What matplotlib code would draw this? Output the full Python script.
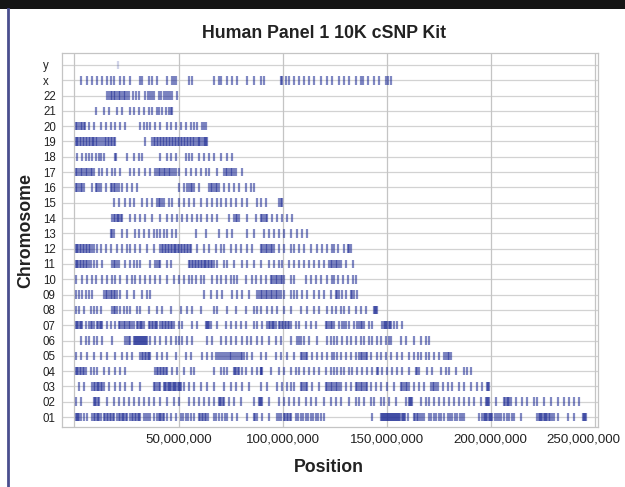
import matplotlib
matplotlib.use("Agg")
import matplotlib.pyplot as plt
from matplotlib.lines import Line2D
from matplotlib.patches import Rectangle
from matplotlib.ticker import FuncFormatter
from matplotlib.transforms import ScaledTranslation

plt.rcParams["font.family"] = ["Liberation Sans", "DejaVu Sans"]

# SNP positions per chromosome, in Mb
chr01 = [0.5, 1.0, 1.6, 2.2, 2.9, 4.5, 6.1, 8.5, 9.2, 9.9, 10.6, 11.3, 12.0, 12.5, 14.1, 14.8, 15.5, 16.2,
         16.9, 17.6, 18.3, 18.9, 20.5, 21.2, 21.9, 22.6, 23.3, 24.0, 24.6, 25.3, 26.9, 27.6, 28.3, 29.0,
         29.7, 30.4, 31.0, 31.7, 33.3, 34.4, 35.5, 36.5, 38.1, 39.7, 40.4, 41.1, 41.8, 42.5, 42.9, 44.6,
         46.2, 48.6, 51.0, 52.2, 53.4, 54.6, 55.8, 57.4, 59.8, 60.5, 61.2, 61.9, 62.6, 63.3, 63.9, 67.0,
         68.2, 69.6, 71.0, 72.2, 73.4, 75.8, 78.2, 83.0, 86.2, 86.9, 87.8, 90.2, 93.4, 97.4, 98.2, 99.0,
         100.6, 101.3, 102.0, 102.7, 103.4, 103.8, 106.3, 107.5, 108.7, 109.9, 111.1, 112.3, 113.5, 114.7,
         115.9, 117.1, 118.3, 119.9, 143.1, 147.1, 147.6, 148.1, 148.6, 149.1, 149.6, 150.1, 150.6, 151.1,
         151.6, 152.1, 152.6, 153.1, 153.6, 154.1, 154.6, 155.1, 155.6, 156.1, 156.6, 157.2, 157.8, 158.4,
         159.0, 160.0, 163.1, 163.8, 164.5, 165.2, 166.0, 166.8, 167.9, 170.3, 171.5, 172.7, 173.9, 175.1,
         176.3, 177.6, 179.2, 180.4, 181.6, 182.8, 184.0, 185.2, 186.2, 187.2, 194.4, 196.0, 196.6, 197.2,
         197.8, 198.4, 199.0, 199.6, 200.0, 200.8, 201.8, 202.8, 203.8, 204.8, 206.4, 207.6, 208.8, 210.0,
         211.2, 214.4, 222.4, 223.0, 223.6, 224.2, 224.8, 225.4, 226.0, 226.6, 227.2, 227.8, 228.4, 229.2,
         230.4, 232.1, 236.9, 240.1, 244.1, 244.6, 245.1, 245.7]
chr02 = [0.5, 2.9, 9.3, 9.9, 10.5, 11.1, 11.7, 15.7, 18.9, 21.3, 23.7, 26.1, 28.5, 30.9, 33.3, 35.7, 38.1,
         41.3, 44.6, 47.7, 50.1, 55.0, 57.4, 59.8, 62.2, 64.6, 67.0, 69.4, 70.0, 70.6, 71.2, 71.8, 74.2,
         76.6, 79.8, 86.2, 88.6, 89.2, 89.7, 90.2, 93.4, 98.2, 100.6, 103.0, 105.4, 107.8, 111.1, 113.5,
         115.9, 119.9, 123.0, 125.5, 127.9, 131.9, 135.1, 136.7, 139.1, 142.3, 143.9, 147.1, 148.7, 151.1,
         154.3, 159.1, 160.7, 161.2, 161.8, 162.3, 166.3, 168.8, 170.3, 172.8, 175.1, 177.6, 180.0, 182.4,
         184.8, 187.2, 189.6, 192.0, 195.2, 197.6, 198.2, 198.7, 199.2, 202.4, 206.4, 207.0, 207.6, 208.2,
         208.8, 209.6, 212.0, 215.2, 217.6, 220.8, 222.4, 225.6, 228.8, 232.1, 235.2, 237.6, 240.1, 242.5]
chr03 = [2.1, 4.5, 8.5, 9.2, 9.9, 10.6, 11.3, 12.0, 12.7, 13.4, 14.1, 16.5, 19.7, 22.1, 24.5, 27.7, 31.7,
         38.1, 38.9, 39.7, 40.5, 41.3, 42.9, 43.5, 44.1, 44.7, 45.3, 45.9, 46.5, 47.1, 47.7, 48.3, 48.9,
         49.5, 50.1, 50.6, 51.0, 52.5, 55.0, 57.4, 60.6, 63.8, 67.0, 71.8, 75.0, 77.4, 80.6, 83.8, 89.4,
         92.6, 97.4, 99.8, 102.2, 103.8, 105.4, 108.7, 109.5, 110.3, 111.1, 111.9, 114.3, 117.4, 120.7,
         121.5, 122.3, 123.1, 123.9, 124.7, 125.5, 126.3, 127.1, 127.9, 130.3, 132.7, 135.1, 135.9, 136.7,
         137.5, 138.3, 139.1, 139.9, 140.7, 142.3, 144.7, 147.1, 150.3, 153.5, 156.7, 157.5, 158.3, 159.1,
         159.9, 160.7, 163.1, 165.5, 167.9, 171.2, 172.0, 172.8, 173.6, 174.4, 176.8, 179.2, 181.6, 184.8,
         187.2, 190.4, 193.6, 196.0, 198.4, 198.8, 199.2]
chr04 = [0.5, 1.2, 1.9, 2.6, 3.3, 4.0, 4.7, 5.3, 7.7, 9.3, 10.9, 14.1, 16.5, 19.7, 22.1, 24.5, 38.9, 39.6,
         40.3, 41.0, 41.7, 42.4, 43.1, 43.8, 44.6, 47.0, 49.4, 52.5, 55.8, 57.4, 67.0, 70.2, 71.8, 73.4,
         76.6, 77.2, 77.8, 78.4, 79.0, 80.6, 82.2, 85.4, 87.8, 89.4, 89.8, 90.2, 94.2, 98.2, 100.6, 103.8,
         106.3, 107.8, 110.2, 112.6, 115.0, 117.4, 120.7, 123.1, 124.7, 126.3, 127.9, 129.5, 131.9, 133.5,
         135.9, 138.3, 140.7, 143.1, 145.5, 146.0, 147.9, 150.3, 152.7, 155.1, 157.5, 160.7, 163.9, 164.4,
         165.5, 169.5, 171.9, 175.9, 178.3, 179.9, 183.1, 187.1, 188.7, 190.3]
chr05 = [0.5, 2.9, 6.1, 9.3, 12.5, 15.7, 19.7, 22.9, 25.3, 27.7, 31.7, 32.4, 33.1, 33.8, 34.5, 35.2, 35.9,
         36.5, 39.7, 42.1, 44.6, 48.6, 53.4, 55.8, 61.4, 63.8, 66.2, 67.8, 68.9, 69.9, 70.8, 71.9, 72.7,
         73.6, 74.5, 75.4, 76.2, 77.1, 78.0, 78.8, 79.8, 80.6, 81.4, 83.0, 85.4, 89.4, 91.8, 96.6, 99.0,
         102.2, 105.4, 108.7, 109.5, 110.3, 111.1, 111.9, 114.3, 116.7, 119.1, 121.5, 123.9, 124.7, 126.3,
         127.9, 130.3, 132.7, 135.1, 136.7, 137.5, 138.3, 139.1, 139.9, 140.7, 142.3, 145.5, 147.1, 149.5,
         151.9, 155.1, 157.5, 160.7, 163.1, 164.8, 166.3, 168.8, 170.3, 172.8, 175.1, 177.6, 178.4, 179.2,
         180.0, 180.8]
chr06 = [2.9, 5.3, 6.9, 9.3, 10.9, 13.3, 18.1, 24.5, 25.3, 26.1, 26.9, 28.5, 29.0, 29.5, 30.0, 30.5, 31.0,
         31.5, 32.0, 32.5, 33.0, 33.5, 34.0, 34.5, 34.9, 36.5, 38.9, 41.3, 43.8, 46.2, 48.6, 50.1, 51.8,
         54.2, 56.6, 63.8, 66.2, 70.2, 72.6, 75.0, 77.4, 80.6, 83.0, 84.6, 87.8, 90.2, 93.4, 96.6, 99.0,
         103.8, 107.1, 108.0, 109.0, 110.2, 112.6, 116.7, 121.5, 123.1, 124.7, 126.3, 128.7, 131.1, 132.7,
         135.1, 137.5, 139.1, 141.5, 143.1, 145.5, 147.1, 149.5, 151.1, 151.9, 156.7, 159.1, 163.1, 166.3,
         168.8, 170.3]
chr07 = [0.5, 1.2, 1.9, 2.6, 3.2, 3.7, 5.3, 6.9, 7.7, 8.5, 9.3, 10.9, 11.5, 12.1, 12.7, 13.3, 15.7, 17.3,
         19.7, 21.3, 22.1, 22.9, 23.7, 24.5, 25.3, 26.1, 26.9, 27.7, 28.5, 30.1, 30.7, 31.3, 31.9, 32.5,
         33.3, 35.7, 36.4, 37.1, 37.8, 38.5, 39.2, 39.7, 41.3, 42.0, 42.7, 43.4, 44.1, 44.8, 45.5, 46.2,
         46.9, 47.7, 50.1, 51.8, 56.6, 59.0, 63.0, 63.6, 64.2, 64.8, 65.4, 68.6, 72.6, 75.0, 77.4, 79.8,
         82.2, 86.2, 87.8, 90.2, 92.6, 93.3, 94.0, 94.7, 95.4, 96.0, 96.6, 98.2, 98.9, 99.6, 100.3, 101.0,
         101.7, 102.4, 103.1, 103.8, 106.3, 107.8, 111.1, 113.5, 115.9, 120.7, 121.5, 122.3, 123.1, 123.9,
         124.7, 127.1, 128.7, 129.5, 130.3, 131.9, 134.3, 135.9, 136.7, 137.5, 138.3, 139.1, 141.5, 143.1,
         147.9, 148.5, 149.1, 149.7, 150.3, 150.9, 151.4, 151.9, 153.5, 155.1, 157.5]
chr08 = [0.5, 2.1, 4.5, 7.7, 9.3, 10.9, 12.5, 18.1, 18.9, 19.7, 20.5, 22.1, 23.7, 25.3, 26.9, 30.1, 31.7,
         35.7, 39.7, 42.1, 46.2, 51.0, 54.2, 56.6, 60.6, 67.0, 68.6, 73.4, 77.4, 82.2, 86.2, 87.8, 89.4,
         92.6, 95.0, 97.4, 100.6, 103.8, 108.7, 111.9, 115.0, 117.4, 121.5, 123.9, 125.5, 127.9, 129.5,
         131.9, 135.1, 137.5, 139.9, 143.9, 144.4, 145.0, 145.5]
chr09 = [0.5, 2.1, 3.7, 5.3, 6.9, 8.5, 14.1, 14.9, 15.7, 16.5, 17.3, 18.1, 18.9, 19.7, 20.5, 22.1, 25.3,
         28.5, 32.5, 34.9, 36.5, 62.2, 65.4, 68.6, 71.0, 75.8, 78.2, 80.6, 83.8, 87.8, 88.6, 89.4, 90.2,
         91.0, 91.8, 92.6, 93.4, 94.2, 95.0, 95.8, 96.6, 97.4, 98.2, 99.0, 100.6, 103.8, 105.4, 107.1,
         109.5, 111.9, 115.0, 117.4, 119.9, 123.1, 125.5, 126.3, 127.1, 128.7, 130.3, 132.7, 133.5, 134.3,
         135.9]
chr10 = [0.5, 3.7, 6.1, 8.5, 10.1, 13.3, 15.7, 18.1, 19.7, 22.1, 25.3, 27.7, 29.3, 31.7, 34.1, 36.5, 38.9,
         41.3, 44.6, 47.7, 50.1, 52.5, 55.0, 56.6, 58.2, 60.6, 62.2, 66.2, 68.6, 70.2, 72.6, 75.0, 76.6,
         78.2, 82.2, 85.4, 87.0, 89.4, 91.8, 94.2, 95.0, 95.8, 96.6, 97.4, 98.2, 99.0, 99.8, 100.6, 103.8,
         105.4, 111.1, 113.5, 115.9, 118.3, 121.5, 123.9, 124.5, 126.4, 128.8, 131.2, 133.7, 135.1]
chr11 = [0.5, 1.2, 1.9, 2.6, 3.3, 4.0, 4.7, 5.4, 6.1, 6.8, 7.7, 9.3, 10.9, 13.3, 18.1, 18.9, 19.7, 20.5,
         21.3, 24.5, 26.9, 28.5, 30.1, 31.7, 36.5, 38.9, 39.7, 40.5, 41.3, 44.6, 46.2, 55.0, 55.7, 56.4,
         57.1, 57.8, 58.5, 59.2, 59.9, 60.6, 61.3, 62.0, 62.7, 63.4, 64.1, 64.8, 65.5, 66.2, 67.0, 68.6,
         71.8, 73.4, 76.6, 80.6, 83.0, 86.2, 89.4, 93.4, 95.8, 98.2, 99.8, 103.0, 105.4, 107.8, 110.2,
         112.6, 115.0, 117.4, 119.9, 122.3, 123.1, 123.9, 124.7, 125.5, 126.3, 127.1, 127.9, 130.3, 133.7]
chr12 = [0.5, 1.2, 1.9, 2.6, 3.3, 4.0, 4.7, 5.4, 6.1, 6.8, 7.5, 8.2, 9.3, 10.9, 12.5, 14.9, 17.3, 20.5,
         22.9, 25.3, 26.9, 29.3, 31.7, 34.9, 38.1, 41.3, 42.0, 42.7, 43.4, 44.1, 44.8, 45.5, 46.2, 46.9,
         47.6, 48.3, 49.0, 49.7, 50.4, 51.1, 51.8, 52.5, 53.2, 53.9, 54.6, 55.3, 55.8, 59.0, 62.2, 64.6,
         67.8, 70.2, 71.8, 75.0, 77.4, 79.8, 83.0, 85.4, 89.4, 90.2, 91.0, 91.8, 92.6, 93.4, 94.2, 95.0,
         95.8, 98.2, 100.6, 103.8, 105.4, 107.8, 110.2, 113.5, 116.7, 119.1, 121.5, 123.9, 124.5, 126.4,
         129.3, 131.2, 132.0, 132.7]
chr13 = [17.3, 18.1, 18.9, 22.9, 25.3, 29.3, 30.9, 33.3, 35.7, 38.1, 39.7, 41.3, 42.9, 44.6, 47.0, 48.6,
         58.2, 63.0, 69.4, 73.4, 75.8, 83.0, 86.2, 91.0, 93.4, 95.8, 98.2, 100.6, 103.8, 107.1, 109.5, 111.9]
chr14 = [18.1, 18.8, 19.5, 20.2, 20.9, 21.6, 22.3, 22.9, 26.9, 29.3, 31.7, 34.1, 37.3, 41.3, 44.6, 47.0,
         49.4, 51.8, 54.2, 56.6, 59.0, 60.6, 63.8, 66.2, 68.6, 74.2, 76.6, 77.4, 78.2, 79.0, 83.0, 87.0,
         89.4, 90.2, 91.0, 91.8, 92.6, 95.0, 97.4, 99.8, 102.2, 104.6]
chr15 = [18.9, 21.3, 24.5, 26.9, 28.5, 32.5, 34.9, 37.3, 39.7, 40.5, 41.3, 42.1, 42.9, 45.3, 47.0, 50.1,
         52.5, 55.0, 57.4, 60.6, 63.8, 66.2, 68.6, 70.2, 72.6, 75.0, 77.4, 80.6, 83.0, 87.8, 89.4, 91.8,
         98.2, 99.0, 99.8]
chr16 = [0.5, 1.3, 2.1, 2.9, 3.7, 4.5, 8.5, 10.1, 10.9, 11.7, 12.5, 14.9, 17.3, 18.1, 18.9, 19.7, 20.5,
         21.3, 22.9, 25.3, 27.7, 30.1, 50.1, 52.5, 54.2, 55.0, 55.8, 56.6, 57.4, 59.8, 64.6, 65.4, 66.2,
         67.0, 67.8, 68.6, 69.4, 71.8, 74.2, 76.6, 79.0, 82.2, 84.6, 86.2]
chr17 = [0.5, 1.3, 2.1, 2.9, 3.7, 4.5, 5.3, 6.1, 6.9, 7.7, 8.5, 9.3, 11.7, 13.3, 15.7, 18.1, 19.7, 22.1,
         26.9, 28.5, 30.9, 34.1, 36.5, 38.9, 39.7, 40.5, 41.3, 42.1, 42.9, 43.7, 44.5, 45.3, 46.1, 46.9,
         47.7, 48.6, 50.1, 53.4, 55.8, 58.2, 60.6, 63.0, 64.6, 68.6, 71.8, 72.6, 73.4, 74.2, 75.0, 75.8,
         76.6, 77.4, 80.6]
chr18 = [1.3, 3.7, 5.3, 6.9, 8.5, 10.1, 11.7, 12.5, 14.1, 19.4, 19.9, 25.3, 28.5, 30.9, 32.5, 41.3, 44.6,
         46.2, 48.6, 53.4, 55.0, 56.6, 59.8, 62.2, 64.6, 67.0, 70.2, 73.4, 75.8]
chr19 = [0.5, 1.1, 1.9, 2.5, 3.3, 4.0, 4.6, 5.4, 6.1, 6.9, 7.5, 8.2, 8.8, 9.6, 10.4, 11.0, 11.7, 12.5,
         13.9, 14.6, 15.2, 16.0, 16.7, 17.3, 18.1, 18.8, 19.6, 34.1, 37.3, 38.1, 38.8, 39.5, 40.3, 40.9,
         41.7, 42.4, 43.2, 43.8, 44.6, 45.4, 46.1, 46.7, 47.5, 48.3, 48.9, 49.7, 50.4, 51.2, 51.8, 52.6,
         53.3, 54.1, 54.7, 55.5, 56.2, 57.0, 57.6, 58.4, 59.1, 59.9, 60.5, 61.3, 62.0, 62.8, 63.4, 63.8]
chr20 = [0.5, 1.3, 2.1, 2.9, 3.7, 4.5, 5.0, 6.9, 9.3, 12.5, 14.9, 17.3, 19.7, 22.1, 24.5, 31.7, 33.3, 34.9,
         36.5, 38.9, 41.3, 44.6, 46.2, 48.6, 51.0, 53.4, 55.8, 57.4, 59.0, 61.4, 62.2, 63.0]
chr21 = [10.1, 14.1, 16.5, 20.5, 22.9, 26.9, 28.5, 30.9, 33.3, 35.7, 37.3, 39.7, 40.5, 42.1, 43.8, 45.3,
         46.2, 47.0]
chr22 = [15.7, 16.5, 17.3, 18.1, 18.9, 19.7, 20.5, 21.3, 22.1, 22.9, 23.7, 24.5, 25.3, 26.1, 28.0, 29.5,
         30.9, 34.1, 35.2, 36.3, 37.2, 38.1, 40.5, 41.6, 42.8, 43.8, 45.0, 46.0, 47.0, 49.4]
chrX = [2.9, 6.1, 8.5, 10.9, 13.3, 15.7, 17.3, 18.9, 22.1, 23.7, 26.9, 31.7, 32.3, 35.7, 37.3, 39.7, 44.6,
        47.0, 47.6, 48.6, 55.0, 56.6, 67.0, 69.4, 70.2, 73.4, 75.8, 78.2, 83.0, 86.2, 89.4, 91.0, 99.0,
        99.8, 101.4, 103.0, 105.4, 107.8, 110.2, 112.6, 115.0, 118.3, 121.5, 123.9, 126.9, 129.3, 131.7,
        135.1, 137.5, 138.5, 140.9, 143.8, 146.2, 149.5, 150.5, 151.9]
chrY = [20.7]

chrom_labels = ["01", "02", "03", "04", "05", "06", "07", "08", "09", "10", "11", "12",
                "13", "14", "15", "16", "17", "18", "19", "20", "21", "22", "x", "y"]
chrom_positions = [chr01, chr02, chr03, chr04, chr05, chr06, chr07, chr08, chr09, chr10, chr11, chr12,
                   chr13, chr14, chr15, chr16, chr17, chr18, chr19, chr20, chr21, chr22, chrX, chrY]
xtick_values = [50e6, 100e6, 150e6, 200e6, 250e6]

W, H = 625, 487
fig = plt.figure(figsize=(W / 100, H / 100), dpi=100)
fig.patch.set_facecolor("white")

# page decoration: dark header band and left rule
fig.patches.append(Rectangle((0, 1 - 9 / H), 1, 9 / H, transform=fig.transFigure,
                             facecolor="#151515", edgecolor="none"))
fig.lines.append(Line2D([8 / W, 8 / W], [0, 1 - 9 / H], transform=fig.transFigure,
                        color="#4a4e8e", lw=2))

ax = fig.add_axes([62 / W, 1 - 427 / H, (598 - 62) / W, (427 - 53) / H])

tick_color = "#1a2893"
for i, pos in enumerate(chrom_positions):
    xs = [p * 1e6 for p in pos]
    alpha = 0.2 if chrom_labels[i] == "y" else 0.55
    ax.vlines(xs, i - 0.28, i + 0.28, color=tick_color, lw=1.6, alpha=alpha, zorder=3)

ax.set_xlim(-6e6, 251.5e6)
ax.set_ylim(-0.65, 23.78)

# grid
for i in range(len(chrom_labels)):
    ax.axhline(i, color="#d2d2d2", lw=0.9, zorder=1)
for v in [0] + xtick_values:
    ax.axvline(v, color="#c4c4c4", lw=0.9, zorder=1)

for s in ax.spines.values():
    s.set_color("#c4c4c4")
    s.set_linewidth(0.9)

ax.set_xticks(xtick_values)
ax.xaxis.set_major_formatter(FuncFormatter(lambda v, p: f"{int(round(v)):,}"))
ax.tick_params(axis="x", length=0, pad=5, labelsize=9.6, labelcolor="#222222")
last = ax.get_xticklabels()[-1]
last.set_transform(last.get_transform() + ScaledTranslation(-0.12, 0, fig.dpi_scale_trans))

ax.set_yticks(range(len(chrom_labels)))
ax.set_yticklabels(chrom_labels)
ax.tick_params(axis="y", length=0, pad=13.7, labelsize=8.3, labelcolor="#222222")
for lab in ax.get_yticklabels():
    lab.set_horizontalalignment("left")

fig.text(324 / W, 1 - 34 / H, "Human Panel 1 10K cSNP Kit", ha="center", va="center",
         fontsize=12.8, fontweight="bold", color="#222222")
fig.text(329 / W, 1 - 467 / H, "Position", ha="center", va="center",
         fontsize=12.8, fontweight="bold", color="#222222")
fig.text(26 / W, 1 - 230 / H, "Chromosome", ha="center", va="center", rotation=90,
         fontsize=12.8, fontweight="bold", color="#222222")

fig.savefig("out.png", dpi=100)
